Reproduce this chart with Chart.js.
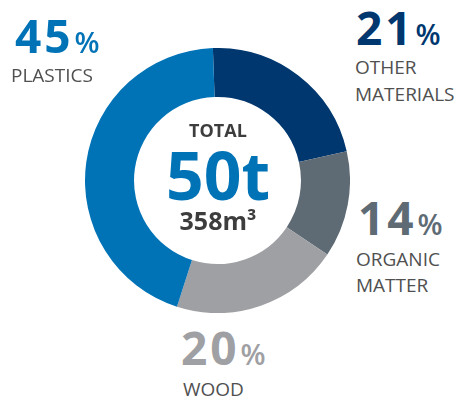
<!DOCTYPE html>
<html lang="en">
<head>
    <meta charset="UTF-8">
    <title>Waste composition</title>
    <script src="https://cdn.jsdelivr.net/npm/chart.js"></script>
    <style>
        html, body {
            margin: 0;
            padding: 0;
            background: #fff;
            width: 463px;
            height: 397px;
            overflow: hidden;
            font-family: "Open Sans", sans-serif;
        }
        #chart-box {
            position: absolute;
            left: 85px;
            top: 48px;
            width: 265px;
            height: 265px;
        }
        .lbl {
            position: absolute;
            line-height: 1;
            white-space: nowrap;
        }
        .pct {
            font-size: 46px;
            font-weight: 700;
            letter-spacing: 3px;
        }
        .pct span {
            font-size: 29px;
            font-weight: 600;
            letter-spacing: 0;
            margin-left: 1px;
        }
        .name {
            font-size: 19px;
            color: #505050;
        }
        .mid {
            position: absolute;
            left: 118px;
            width: 200px;
            text-align: center;
            line-height: 1;
            font-weight: 700;
        }
    </style>
</head>
<body>
    <div id="chart-box">
        <canvas id="donut"></canvas>
    </div>

    <div class="lbl pct" id="p0" style="left:356px; top:4px; color:#00376f"></div>
    <div class="lbl name" id="n0a" style="left:355px; top:58px"></div>
    <div class="lbl name" id="n0b" style="left:355px; top:85px"></div>

    <div class="lbl pct" id="p1" style="left:358px; top:194px; color:#5e6b74"></div>
    <div class="lbl name" id="n1a" style="left:356px; top:250px"></div>
    <div class="lbl name" id="n1b" style="left:356px; top:276px"></div>

    <div class="lbl pct" id="p2" style="left:181px; top:324px; color:#9fa0a3"></div>
    <div class="lbl name" id="n2a" style="left:183px; top:380px"></div>

    <div class="lbl pct" id="p3" style="left:15px; top:12px; color:#0073b7"></div>
    <div class="lbl name" id="n3a" style="left:11px; top:66px"></div>

    <div class="mid" style="top:121px; font-size:18px; color:#3d3d3d">TOTAL</div>
    <div class="mid" style="top:141px; font-size:66px; color:#0073b7">50t</div>
    <div class="mid" style="top:208px; font-size:25px; color:#3d3d3d">358m&sup3;</div>

    <script>
        // 圖上標示的百分比與名稱
        var categories = ['OTHER MATERIALS', 'ORGANIC MATTER', 'WOOD', 'PLASTICS'];
        var nameLines = [['OTHER', 'MATERIALS'], ['ORGANIC', 'MATTER'], ['WOOD'], ['PLASTICS']];
        var percentLabels = [21, 14, 20, 45];
        // 實際畫出的弧長 (從圖上量的)
        var arcShares = [22, 13, 20.5, 44.5];
        var colors = ['#00376f', '#5e6b74', '#9fa0a3', '#0073b7'];

        for (var i = 0; i < categories.length; i++) {
            document.getElementById('p' + i).innerHTML = percentLabels[i] + '<span>%</span>';
            document.getElementById('n' + i + 'a').textContent = nameLines[i][0];
            if (nameLines[i][1]) {
                document.getElementById('n' + i + 'b').textContent = nameLines[i][1];
            }
        }

        var ctx = document.getElementById('donut').getContext('2d');
        new Chart(ctx, {
            type: 'doughnut',
            data: {
                labels: categories,
                datasets: [{
                    data: arcShares,
                    backgroundColor: colors,
                    borderWidth: 0
                }]
            },
            options: {
                responsive: true,
                maintainAspectRatio: false,
                animation: false,
                cutout: '63%',
                rotation: -2,
                layout: { padding: 0 },
                plugins: {
                    legend: { display: false },
                    tooltip: { enabled: false }
                }
            }
        });
    </script>
</body>
</html>
